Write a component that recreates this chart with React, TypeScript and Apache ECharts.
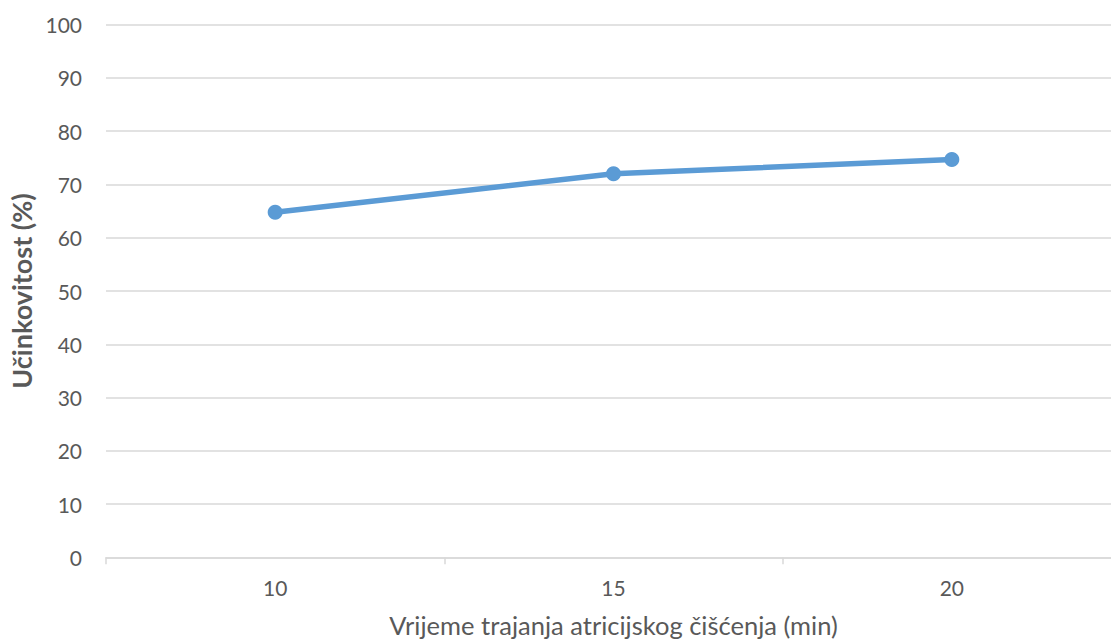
import React, { useEffect, useRef } from "react";
import * as echarts from "echarts";

const categories = ["10", "15", "20"];
const efficiency = [64.8, 72.0, 74.7];
const yTicks = { min: 0, max: 100, interval: 10 };

export default function App() {
  const ref = useRef<HTMLDivElement>(null);
  useEffect(() => {
    if (!ref.current) return;
    const chart = echarts.init(ref.current, undefined, { renderer: "svg" });
    const font = "Lato, 'Open Sans', sans-serif";
    chart.setOption({
      animation: false,
      backgroundColor: "#ffffff",
      grid: {
        left: 106,
        right: -10,
        top: 24.7,
        bottom: 82.7,
        containLabel: false,
        outerBoundsMode: "none",
      },
      xAxis: {
        type: "category",
        data: categories,
        boundaryGap: true,
        name: "Vrijeme trajanja atricijskog čišćenja (min)",
        nameLocation: "middle",
        nameGap: 55,
        nameTextStyle: { color: "#595959", fontSize: 25.5, fontFamily: font },
        axisLine: { show: true, lineStyle: { color: "#D9D9D9", width: 1.5 } },
        axisTick: { show: true, length: 7, lineStyle: { color: "#D9D9D9", width: 1.5 } },
        axisLabel: { color: "#595959", fontSize: 21, fontFamily: font, margin: 20 },
        splitLine: { show: false },
      },
      yAxis: {
        type: "value",
        min: yTicks.min,
        max: yTicks.max,
        interval: yTicks.interval,
        name: "Učinkovitost (%)",
        nameLocation: "middle",
        nameGap: 68,
        nameRotate: 90,
        nameTextStyle: { color: "#595959", fontSize: 27, fontWeight: "bold", fontFamily: font },
        axisLine: { show: false },
        axisTick: { show: false },
        axisLabel: { color: "#595959", fontSize: 21, fontFamily: font, margin: 24 },
        splitLine: { show: true, lineStyle: { color: "#D9D9D9", width: 1.5 } },
      },
      series: [
        {
          type: "line",
          data: efficiency,
          symbol: "circle",
          symbolSize: 15,
          lineStyle: { color: "#5B9BD5", width: 5.5 },
          itemStyle: { color: "#5B9BD5" },
        },
      ],
    });
    return () => chart.dispose();
  }, []);
  return (
    <div
      ref={ref}
      style={{ position: "fixed", left: 0, top: 0, width: 1111, height: 640 }}
    />
  );
}
